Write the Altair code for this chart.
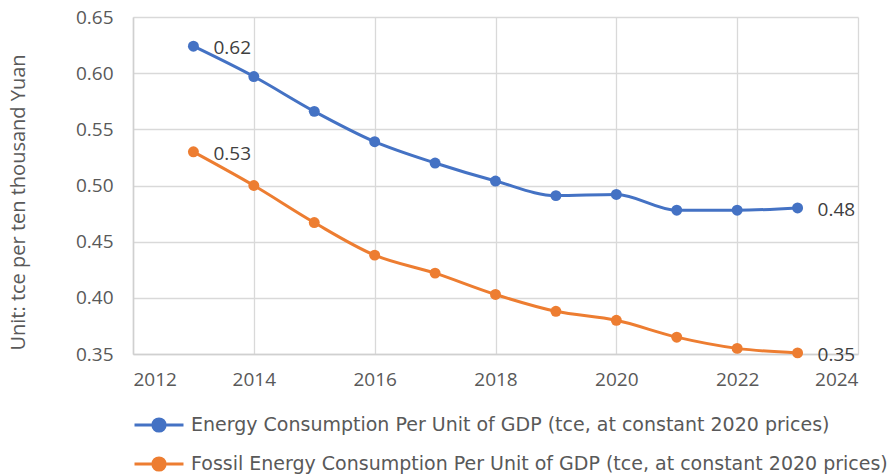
import altair as alt
import pandas as pd

years = [2013, 2014, 2015, 2016, 2017, 2018, 2019, 2020, 2021, 2022, 2023]
energy = [0.624, 0.597, 0.566, 0.539, 0.520, 0.504, 0.491, 0.492, 0.478, 0.478, 0.480]
fossil = [0.530, 0.500, 0.467, 0.438, 0.422, 0.403, 0.388, 0.380, 0.365, 0.355, 0.351]
series_names = [
    "Energy Consumption Per Unit of GDP (tce, at constant 2020 prices)",
    "Fossil Energy Consumption Per Unit of GDP (tce, at constant 2020 prices)",
]
colors = ["#4472C4", "#ED7D31"]
y_title = "Unit: tce per ten thousand Yuan"

rows = []
for i, y in enumerate(years):
    rows.append({"year": y, "value": energy[i], "series": series_names[0]})
    rows.append({"year": y, "value": fossil[i], "series": series_names[1]})
df = pd.DataFrame(rows)

label_df = df[(df["year"] == years[0]) | (df["year"] == years[-1])].copy()
label_df["label"] = label_df["value"].map(lambda v: f"{v:.2f}")

FONT = "Open Sans"
GRAY = "#595959"

x = alt.X("year:Q", scale=alt.Scale(domain=[2012, 2024], nice=False),
          axis=alt.Axis(values=list(range(2012, 2025, 2)), format="d", title=None))
y = alt.Y("value:Q", scale=alt.Scale(domain=[0.35, 0.65], nice=False, zero=False),
          axis=alt.Axis(values=[0.35, 0.40, 0.45, 0.50, 0.55, 0.60, 0.65], format=".2f",
                        title=y_title, titleY=185))
color = alt.Color("series:N", scale=alt.Scale(domain=series_names, range=colors),
                  legend=alt.Legend(
                      title=None, orient="none", legendX=0, legendY=382, direction="vertical",
                      symbolType="M -1 0 L -0.25 0 M 0.25 0 L 1 0 M -0.25 0 A 0.25 0.25 0 1 0 0.25 0 A 0.25 0.25 0 1 0 -0.25 0 Z",
                      symbolSize=2400, symbolStrokeWidth=3, labelFontSize=19, labelFont="DejaVu Sans",
                      labelColor=GRAY, rowPadding=-10, symbolOffset=0, labelOffset=6,
                      labelLimit=900))

lines = alt.Chart(df).mark_line(strokeWidth=3, interpolate="monotone").encode(x=x, y=y, color=color)
points = alt.Chart(df).mark_point(filled=True, size=120, opacity=1).encode(
    x=x, y=y, color=alt.Color("series:N", scale=alt.Scale(domain=series_names, range=colors), legend=None))

labels = alt.Chart(label_df).mark_text(
    align="left", dx=20, dy=2, fontSize=19, font=FONT, color="#404040").encode(x=x, y=y, text="label:N")

chart = alt.layer(lines, points, labels).properties(
    width=725, height=337,
    autosize=alt.AutoSizeParams(type="none"),
    padding={"left": 125, "top": 9, "right": 30, "bottom": 126},
).configure_view(stroke=None).configure_axis(
    labelFont=FONT, labelFontSize=19, labelColor=GRAY, titleFont=FONT, titleFontSize=20,
    titleColor=GRAY, titleFontWeight="normal", gridColor="#d9d9d9", gridWidth=1.3,
    domainColor="#d0d0d0", domainWidth=1.5, ticks=False,
).configure_axisY(titlePadding=47, labelPadding=20, domain=True).configure_axisX(labelPadding=16, domain=True)

chart.save("out.html", embed_options={"renderer": "svg", "actions": False})
